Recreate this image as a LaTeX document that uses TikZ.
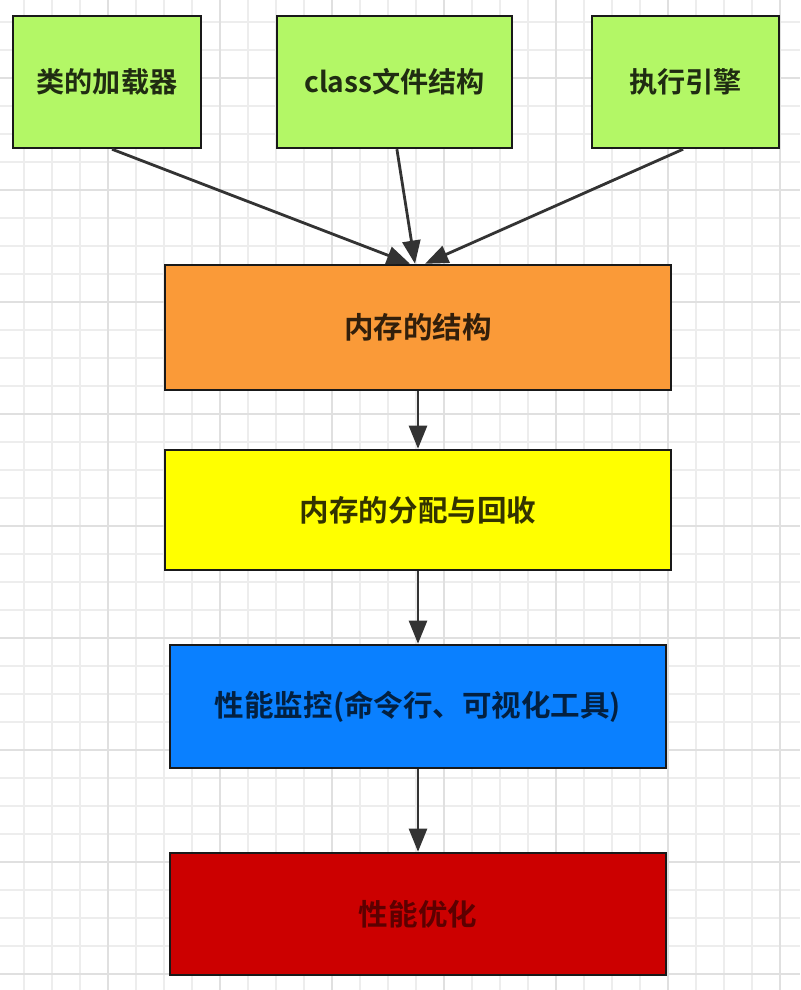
\documentclass[tikz,border=0pt]{standalone}
\usepackage{fontspec}
\setmainfont{Noto Sans CJK SC}[BoldFont={Noto Sans CJK SC Bold}]
\usetikzlibrary{arrows.meta}
\definecolor{jvmgreen}{HTML}{B3F766}
\definecolor{jvmorange}{HTML}{FA9A38}
\definecolor{jvmyellow}{HTML}{FFFF00}
\definecolor{jvmblue}{HTML}{0A80FF}
\definecolor{jvmred}{HTML}{CC0000}
\definecolor{gridminor}{HTML}{EDEDED}
\definecolor{gridmajor}{HTML}{E0E0E0}
\definecolor{arrowgray}{HTML}{333333}

\begin{document}
\begin{tikzpicture}[
  x=0.025cm, y=-0.025cm,
  every node/.style={font=\fontsize{21}{25}\selectfont\bfseries},
  box/.style={draw=black!90, line width=0.06cm, minimum width=12.65cm,
              minimum height=3.1cm, inner sep=0pt, align=center},
  topbox/.style={box, fill=jvmgreen, text=jvmgreen!18!black,
                 minimum height=3.3cm, font=\fontsize{20}{24}\selectfont\bfseries},
  arr/.style={-{Triangle[length=0.58cm,width=0.45cm]}, draw=arrowgray,
              line width=0.07cm},
]

% background grid
\useasboundingbox (0,0) rectangle (800,990);
\fill[white] (0,0) rectangle (800,990);
\foreach \gx in {24,52,...,800} \draw[gridminor, line width=0.04cm] (\gx,0) -- (\gx,990);
\foreach \gy in {22,50,...,990} \draw[gridminor, line width=0.04cm] (0,\gy) -- (800,\gy);
\foreach \gx in {108,220,...,800} \draw[gridmajor, line width=0.05cm] (\gx,0) -- (\gx,990);
\foreach \gy in {78,190,...,990} \draw[gridmajor, line width=0.05cm] (0,\gy) -- (800,\gy);

% top row
\node[topbox, minimum width=4.7cm]   (loader) at (107,82)   {类的加载器};
\node[topbox, minimum width=5.875cm] (cfile)  at (394.5,82) {class文件结构};
\node[topbox, minimum width=4.675cm] (engine) at (685.5,82) {执行引擎};

% main chain
\node[box, fill=jvmorange, text=jvmorange!20!black, minimum height=3.125cm]
  (memory) at (418,327.5) {内存的结构};
\node[box, fill=jvmyellow, text=jvmyellow!20!black, minimum height=3cm]
  (gc) at (418,510) {内存的分配与回收};
\node[box, fill=jvmblue, text=jvmblue!25!black, minimum width=12.4cm, minimum height=3.075cm]
  (monitor) at (418,706.5) {性能监控(命令行、可视化工具)};
\node[box, fill=jvmred, text=jvmred!45!black, minimum width=12.4cm, minimum height=3.05cm]
  (tuning) at (418,914) {性能优化};

% arrows
\draw[arr] ([xshift=0.125cm]loader.south) -- ([xshift=-0.2cm]memory.north);
\draw[arr] ([xshift=0.06cm]cfile.south) -- ([xshift=-0.075cm]memory.north);
\draw[arr] ([xshift=-0.06cm]engine.south) -- ([xshift=0.175cm]memory.north);
\draw[arr] (memory) -- (gc);
\draw[arr] (gc) -- (monitor);
\draw[arr] (monitor) -- (tuning);

\end{tikzpicture}
\end{document}
